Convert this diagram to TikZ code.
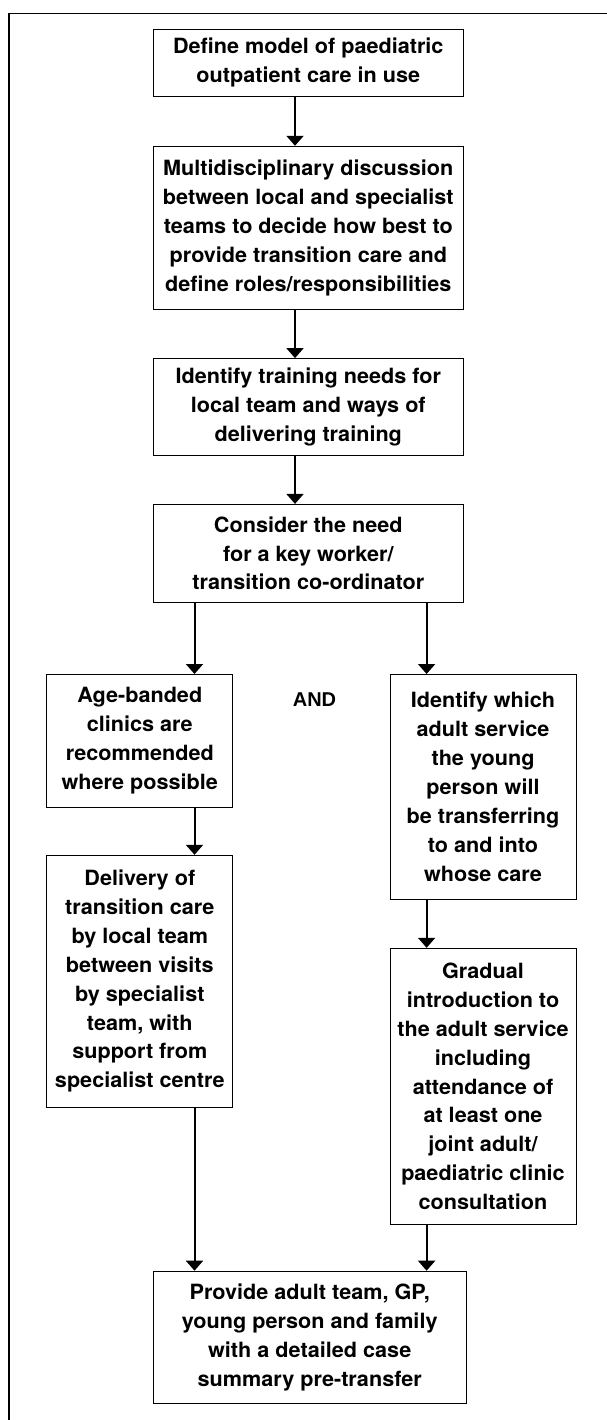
\documentclass[tikz,border=0pt]{standalone}
\usepackage{fontspec}
\newfontfamily\boxfont{TeX Gyre Heros}[FakeStretch=1.03]
\newfontfamily\andfont{Liberation Sans}
\usetikzlibrary{arrows.meta,positioning}

\begin{document}
\begin{tikzpicture}[
  x=1pt,y=-1pt,
  >=Latex,
  box/.style={draw,line width=0.8pt,align=center,inner sep=0pt,
    font=\boxfont\bfseries\fontsize{21}{28.9}\selectfont},
  wide/.style={box,minimum width=309.8pt},
  narrow/.style={box,minimum width=186pt},
  flow/.style={-{Triangle[width=17pt,length=10pt]},line width=2pt},
  frame/.style={line width=1.2pt}
]
\useasboundingbox (0,0) rectangle (607,1420);
\draw[frame] (607,13.5) -- (9,13.5) -- (9,1420);

% arrow columns
\coordinate (colM) at (295,0);
\coordinate (colL) at (194.5,0);
\coordinate (colR) at (426.6,0);

% main chain
\node[wide,minimum height=67pt,anchor=north] (model) at (308.3,29)
  {Define model of paediatric\\outpatient care in use};
\node[wide,minimum height=163pt,below=49pt of model] (discuss)
  {Multidisciplinary discussion\\between local and specialist\\teams to decide how best to\\provide transition care and\\define roles/responsibilities};
\node[wide,minimum height=97pt,below=48.5pt of discuss] (training)
  {Identify training needs for\\local team and ways of\\delivering training};
\node[wide,minimum height=98pt,below=48pt of training] (keyworker)
  {Consider the need\\for a key worker/\\transition co-ordinator};

% two branches
\node[narrow,minimum height=132.7pt,anchor=north] (ageband) at (139.8,674)
  {Age-banded\\clinics are\\recommended\\where possible};
\node[narrow,minimum height=224.7pt,anchor=north] (adultsvc) at (483,674)
  {Identify which\\adult service\\the young\\person will\\be transferring\\to and into\\whose care};
\node[font=\andfont\bfseries\fontsize{20}{24}\selectfont] (and) at (314.5,699.5) {AND};
\node[narrow,minimum height=252pt,below=47.3pt of ageband] (delivery)
  {Delivery of\\transition care\\by local team\\between visits\\by specialist\\team, with\\support from\\specialist centre};
\node[narrow,minimum height=276.3pt,below=48.3pt of adultsvc] (gradual)
  {Gradual\\introduction to\\the adult service\\including\\attendance of\\at least one\\joint adult/\\paediatric clinic\\consultation};

% handover
\node[box,minimum width=312.8pt,minimum height=132.7pt,anchor=north] (summary) at (309.7,1270.7)
  {Provide adult team, GP,\\young person and family\\with a detailed case\\summary pre-transfer};

\draw[flow] (model.south -| colM) -- (discuss.north -| colM);
\draw[flow] (discuss.south -| colM) -- (training.north -| colM);
\draw[flow] (training.south -| colM) -- (keyworker.north -| colM);
\draw[flow] (keyworker.south -| colL) -- (ageband.north -| colL);
\draw[flow] (keyworker.south -| colR) -- (adultsvc.north -| colR);
\draw[flow] (ageband.south -| colL) -- (delivery.north -| colL);
\draw[flow] (adultsvc.south -| colR) -- (gradual.north -| colR);
\draw[flow] (delivery.south -| colL) -- (summary.north -| colL);
\draw[flow] (gradual.south -| colR) -- (summary.north -| colR);
\end{tikzpicture}
\end{document}
